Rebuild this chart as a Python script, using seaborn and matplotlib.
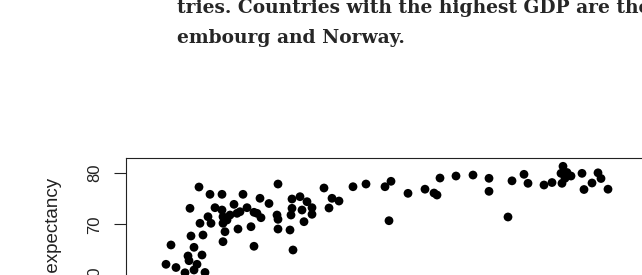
import matplotlib
matplotlib.use("Agg")
import matplotlib.pyplot as plt
import seaborn as sns
import pandas as pd

# log GDP per capita (arbitrary log units) and life expectancy (years)
log_gdp = [5.90, 5.95, 6.00, 6.09, 6.12, 6.13, 6.14, 6.15, 6.18, 6.18,
           6.21, 6.23, 6.26, 6.27, 6.29, 6.24, 6.32, 6.35, 6.34, 6.46,
           6.67, 6.58, 6.39, 6.46, 6.71, 6.78, 6.47, 6.51, 6.54, 6.61,
           6.64, 6.47, 6.49, 6.62, 6.75, 6.47, 6.78, 6.84, 6.93, 7.02,
           7.48, 6.81, 6.85, 7.01, 7.02, 7.02, 7.14, 7.17, 7.16, 7.24,
           7.31, 7.36, 7.36, 7.16, 7.15, 7.26, 7.28, 7.56, 7.63, 7.53,
           7.77, 7.90, 8.09, 8.15, 8.13, 8.32, 8.49, 8.58, 8.61, 8.64,
           8.80, 8.97, 9.13, 9.13, 9.32, 9.36, 9.48, 9.52, 9.68, 9.76,
           9.87, 9.85, 9.91, 9.95, 9.86, 9.89, 10.06, 10.08, 10.16, 10.22,
           10.25, 10.32]
life_expectancy = [62.27, 66.01, 61.65, 60.63, 63.88, 62.97, 73.11, 67.75, 65.56, 61.17,
                   62.27, 77.23, 64.07, 67.94, 60.69, 70.21, 71.48, 70.21, 75.82, 75.82,
                   75.82, 73.88, 73.23, 72.78, 73.23, 72.34, 71.48, 70.85, 71.81, 72.14,
                   72.45, 70.21, 68.58, 69.10, 69.55, 66.65, 65.76, 75.05, 74.04, 77.81,
                   77.04, 72.14, 71.29, 71.81, 70.98, 69.10, 68.91, 65.04, 74.91, 75.36,
                   74.39, 73.23, 71.95, 73.11, 71.81, 72.78, 70.52, 75.05, 74.52, 73.17,
                   77.29, 77.81, 77.29, 78.34, 70.71, 76.01, 76.81, 76.07, 75.68, 78.97,
                   79.36, 79.55, 78.92, 76.40, 71.43, 78.43, 79.69, 77.95, 77.62, 78.10,
                   81.24, 79.88, 80.04, 79.36, 77.95, 78.92, 79.88, 76.75, 78.01, 79.98,
                   78.88, 76.81]
y_ticks = [40, 50, 60, 70, 80]
text_line1 = "tries. Countries with the highest GDP are the"
text_line2 = "embourg and Norway."
y_label = "Life expectancy"

df = pd.DataFrame({"log_gdp": log_gdp, "life": life_expectancy})

sns.set_style("white")
plt.rcParams["font.family"] = ["Liberation Sans", "DejaVu Sans"]

W, H = 642, 275
fig = plt.figure(figsize=(W / 100, H / 100), dpi=100)
ax = fig.add_axes([126 / W, 1 - 400 / H, 574 / W, 242 / H])

sns.scatterplot(data=df, x="log_gdp", y="life", ax=ax, color="black",
                s=40, edgecolor="none", linewidth=0, legend=False)

ax.set_xlim(5.5, 11.24)
ax.set_ylim(36.0, 82.85)
ax.set_yticks(y_ticks)
ax.set_yticklabels([str(t) for t in y_ticks], rotation=90, va="center")
ax.set_xticks([])
ax.set_xlabel("")
ax.set_ylabel("")
ax.tick_params(axis="y", length=8.4, width=0.8, color="#222222",
               pad=9, labelsize=12, labelcolor="#222222", left=True)
for sp in ax.spines.values():
    sp.set_visible(True)
    sp.set_color("#222222")
    sp.set_linewidth(0.8)

fig.text(53.3 / W, 1 - 178 / H, y_label, rotation=90, ha="center", va="top",
         fontsize=13.5, color="#222222")

fig.text(176.7 / W, 1 - 12.7 / H, text_line1, ha="left", va="baseline",
         family=["DejaVu Serif"], fontweight="bold", fontsize=13.4, color="#262626")
fig.text(176.7 / W, 1 - 42.7 / H, text_line2, ha="left", va="baseline",
         family=["DejaVu Serif"], fontweight="bold", fontsize=13.4, color="#262626")

fig.savefig("out.png", dpi=100)
